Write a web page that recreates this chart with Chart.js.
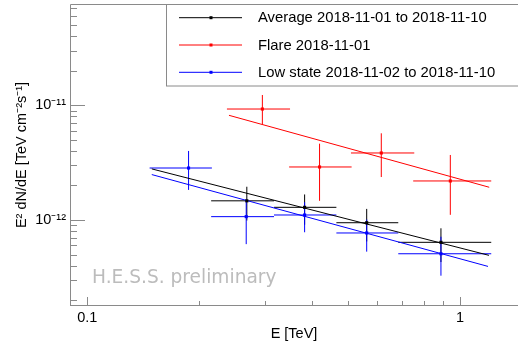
<!DOCTYPE html>
<html>
<head>
<meta charset="utf-8">
<script src="https://cdn.jsdelivr.net/npm/chart.js@4.4.0/dist/chart.umd.min.js"></script>
<style>
  html, body { margin: 0; padding: 0; background: #fff; }
</style>
</head>
<body>
<canvas id="sed" width="518" height="351"></canvas>
<script>
// Energies in TeV, fluxes E^2 dN/dE in TeV cm^-2 s^-1
// Average 2018-11-01 to 2018-11-10
const avgE   = [0.268, 0.383, 0.562, 0.889];
const avgElo = [0.215, 0.317, 0.466, 0.683];
const avgEhi = [0.317, 0.466, 0.683, 1.213];
const avgF   = [1.47e-12, 1.29e-12, 9.47e-13, 6.39e-13];
const avgFlo = [0.99e-12, 0.91e-12, 6.5e-13, 4.3e-13];
const avgFhi = [1.95e-12, 1.67e-12, 1.25e-12, 8.47e-13];

// Flare 2018-11-01
const flareE   = [0.295, 0.420, 0.615, 0.942];
const flareElo = [0.237, 0.348, 0.510, 0.749];
const flareEhi = [0.350, 0.512, 0.754, 1.213];
const flareF   = [9.28e-12, 2.90e-12, 3.84e-12, 2.19e-12];
const flareFlo = [6.83e-12, 1.47e-12, 2.37e-12, 1.11e-12];
const flareFhi = [1.23e-11, 4.63e-12, 5.70e-12, 3.69e-12];

// Low state 2018-11-02 to 2018-11-10
const lowE   = [0.187, 0.267, 0.383, 0.562, 0.889];
const lowElo = [0.147, 0.215, 0.317, 0.466, 0.683];
const lowEhi = [0.216, 0.317, 0.466, 0.683, 1.213];
const lowF   = [2.84e-12, 1.07e-12, 1.106e-12, 7.71e-13, 5.08e-13];
const lowFlo = [1.83e-12, 6.16e-13, 7.82e-13, 5.3e-13, 3.27e-13];
const lowFhi = [4.0e-12, 1.52e-12, 1.43e-12, 1.01e-12, 7.15e-13];

// power-law fits (ends of the drawn line)
const avgFitE   = [0.149, 1.196];
const avgFitF   = [2.79e-12, 4.92e-13];
const flareFitE = [0.240, 1.198];
const flareFitF = [8.18e-12, 1.93e-12];
const lowFitE   = [0.149, 1.189];
const lowFitF   = [2.49e-12, 3.94e-13];

const seriesNames = ['Average 2018-11-01 to 2018-11-10', 'Flare 2018-11-01', 'Low state 2018-11-02 to 2018-11-10'];
const seriesColors = ['#000000', '#ff0000', '#0000ff'];

const xTickValues = [0.1, 1];
const xTickLabels = ['0.1', '1'];
const yTickValues = [1e-12, 1e-11];
const yTickLabels = ['10\u207B\u00B9\u00B2', '10\u207B\u00B9\u00B9'];

const watermark = 'H.E.S.S. preliminary';

const FONT = '"Liberation Sans", Arial, sans-serif';
const AXIS = '#8a8a8a';

function pts(xs, ys) {
    return xs.map((v, i) => ({ x: v, y: ys[i] }));
}

// 1..9 x 10^n inside the axis range
function logTicks(min, max) {
    const out = [];
    for (let e = Math.floor(Math.log10(min)); e <= Math.ceil(Math.log10(max)); e++) {
        for (let m = 1; m <= 9; m++) {
            const v = Number((m * Math.pow(10, e)).toPrecision(6));
            if (v >= min && v <= max) out.push({ value: v });
        }
    }
    return out;
}

function isDecade(v) {
    const l = Math.log10(v);
    return Math.abs(l - Math.round(l)) < 1e-6;
}

function labelFor(values, labels, v) {
    const i = values.findIndex(t => Math.abs(t / v - 1) < 1e-6);
    return i >= 0 ? labels[i] : '';
}

function noPad(s) {
    s.paddingTop = 0;
    s.paddingBottom = 0;
    s.paddingLeft = 0;
    s.paddingRight = 0;
}

function pointSet(name, color, xs, ys, xlo, xhi, ylo, yhi) {
    return {
        type: 'scatter',
        label: name,
        data: pts(xs, ys),
        backgroundColor: color,
        borderColor: color,
        borderWidth: 0,
        pointStyle: 'rect',
        pointRadius: 2.2,
        err: { xlo: xlo, xhi: xhi, ylo: ylo, yhi: yhi }
    };
}

function fitSet(color, xs, ys) {
    return {
        type: 'line',
        data: pts(xs, ys),
        borderColor: color,
        borderWidth: 1,
        pointRadius: 0,
        fill: false
    };
}

const rootStyle = {
    id: 'rootStyle',
    beforeDatasetsDraw(chart) {
        const ctx = chart.ctx;
        const sx = chart.scales.x, sy = chart.scales.y;

        ctx.save();
        ctx.font = '18.6px "DejaVu Sans"';
        ctx.fillStyle = '#bcbcbc';
        ctx.textBaseline = 'alphabetic';
        ctx.fillText(watermark, 92, 282.5);
        ctx.restore();

        // error bars
        chart.data.datasets.forEach(ds => {
            if (!ds.err) return;
            ctx.save();
            ctx.strokeStyle = ds.borderColor;
            ctx.lineWidth = 1;
            ds.data.forEach((p, i) => {
                const px = sx.getPixelForValue(p.x);
                const py = sy.getPixelForValue(p.y);
                ctx.beginPath();
                ctx.moveTo(sx.getPixelForValue(ds.err.xlo[i]), py);
                ctx.lineTo(sx.getPixelForValue(ds.err.xhi[i]), py);
                ctx.moveTo(px, sy.getPixelForValue(ds.err.ylo[i]));
                ctx.lineTo(px, sy.getPixelForValue(ds.err.yhi[i]));
                ctx.stroke();
            });
            ctx.restore();
        });
    },
    afterDraw(chart) {
        const ctx = chart.ctx;
        const a = chart.chartArea;
        const sx = chart.scales.x, sy = chart.scales.y;

        ctx.save();
        ctx.strokeStyle = AXIS;
        ctx.lineWidth = 1;
        ctx.beginPath();
        // frame
        ctx.moveTo(a.left + 0.5, a.top + 0.5);
        ctx.lineTo(a.left + 0.5, a.bottom - 0.5);
        ctx.lineTo(a.right, a.bottom - 0.5);
        ctx.moveTo(a.left + 0.5, a.top + 0.5);
        ctx.lineTo(a.right, a.top + 0.5);
        // ticks, drawn inward
        sx.ticks.forEach(t => {
            const px = Math.round(sx.getPixelForValue(t.value)) + 0.5;
            const len = isDecade(t.value) ? 9 : 5;
            ctx.moveTo(px, a.bottom);
            ctx.lineTo(px, a.bottom - len);
        });
        sy.ticks.forEach(t => {
            const py = Math.round(sy.getPixelForValue(t.value)) + 0.5;
            const len = isDecade(t.value) ? 15 : 7;
            ctx.moveTo(a.left, py);
            ctx.lineTo(a.left + len, py);
        });
        ctx.stroke();

        // legend box
        const bx = 166.5, by = a.top + 0.5, bw = 360, bh = 81.5;
        ctx.fillStyle = '#fff';
        ctx.fillRect(bx, by, bw, bh);
        ctx.strokeRect(bx, by, bw, bh);

        const sets = chart.data.datasets.filter(d => d.err);
        ctx.font = '14.8px ' + FONT;
        ctx.textBaseline = 'middle';
        sets.forEach((ds, i) => {
            const ly = 17.7 + i * 27.3;
            ctx.strokeStyle = ds.borderColor;
            ctx.beginPath();
            ctx.moveTo(179, ly);
            ctx.lineTo(242, ly);
            ctx.stroke();
            ctx.fillStyle = ds.borderColor;
            ctx.fillRect(209.5, ly - 1.5, 3, 3);
            ctx.fillStyle = '#000';
            ctx.fillText(ds.label, 258, ly + 0.5);
        });
        ctx.restore();
    }
};

new Chart(document.getElementById('sed'), {
    data: {
        datasets: [
            pointSet(seriesNames[0], seriesColors[0], avgE, avgF, avgElo, avgEhi, avgFlo, avgFhi),
            pointSet(seriesNames[1], seriesColors[1], flareE, flareF, flareElo, flareEhi, flareFlo, flareFhi),
            pointSet(seriesNames[2], seriesColors[2], lowE, lowF, lowElo, lowEhi, lowFlo, lowFhi),
            fitSet(seriesColors[0], avgFitE, avgFitF),
            fitSet(seriesColors[1], flareFitE, flareFitF),
            fitSet(seriesColors[2], lowFitE, lowFitF)
        ]
    },
    options: {
        responsive: false,
        devicePixelRatio: 1,
        animation: false,
        events: [],
        layout: { autoPadding: false, padding: { top: 4, right: 0, left: 0, bottom: 0 } },
        plugins: { legend: { display: false }, tooltip: { enabled: false } },
        scales: {
            x: {
                type: 'logarithmic',
                position: 'bottom',
                min: 0.0899,
                max: 1.431,
                grid: { display: false, drawTicks: false },
                border: { display: false },
                afterBuildTicks: s => { s.ticks = logTicks(s.min, s.max); },
                afterFit: s => { s.height = 45; noPad(s); },
                ticks: {
                    autoSkip: false,
                    maxRotation: 0,
                    padding: 3,
                    color: '#000',
                    font: { family: FONT, size: 14.5 },
                    callback: v => labelFor(xTickValues, xTickLabels, v)
                },
                title: {
                    display: true,
                    text: 'E [TeV]',
                    color: '#000',
                    font: { family: FONT, size: 14.5 },
                    padding: { top: 0, bottom: 8 }
                }
            },
            y: {
                type: 'logarithmic',
                position: 'left',
                min: 1.78e-13,
                max: 7.64e-11,
                grid: { display: false, drawTicks: false },
                border: { display: false },
                afterBuildTicks: s => { s.ticks = logTicks(s.min, s.max); },
                afterFit: s => { s.width = 70; noPad(s); },
                ticks: {
                    autoSkip: false,
                    padding: 4,
                    color: '#000',
                    font: { family: FONT, size: 14.5 },
                    callback: v => labelFor(yTickValues, yTickLabels, v)
                },
                title: {
                    display: true,
                    text: 'E\u00B2 dN/dE [TeV cm\u207B\u00B2s\u207B\u00B9]',
                    color: '#000',
                    font: { family: FONT, size: 14.5 },
                    padding: { top: 13, bottom: 0 }
                }
            }
        }
    },
    plugins: [rootStyle]
});
</script>
</body>
</html>
